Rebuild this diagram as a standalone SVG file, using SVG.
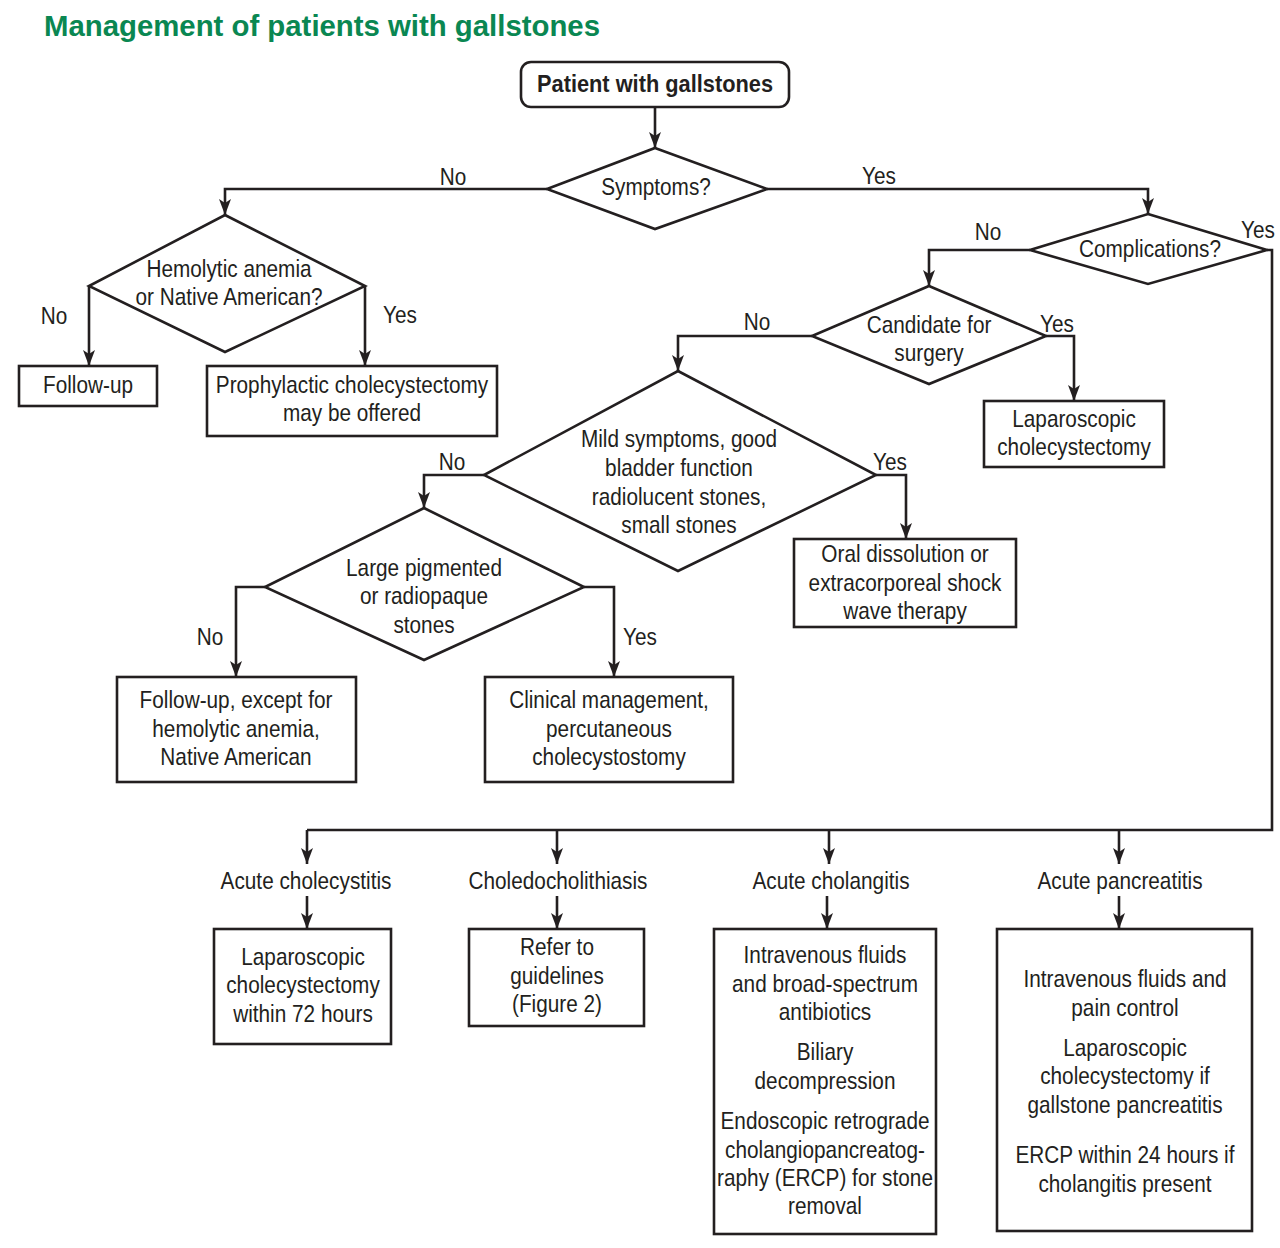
<svg xmlns="http://www.w3.org/2000/svg" width="1280" height="1248" viewBox="0 0 1280 1248">
<style>
.t{font-family:"Liberation Sans",Arial,sans-serif;font-size:24px;fill:#231f20;text-anchor:middle}
.b{font-weight:bold}
.title{font-family:"Liberation Sans",Arial,sans-serif;font-size:30px;font-weight:bold;fill:#0a8752}
.s{fill:#fff;stroke:#231f20;stroke-width:2.6}
.c{fill:none;stroke:#231f20;stroke-width:2.6}
</style>
<defs>
<marker id="ah" viewBox="0 0 16 12" refX="16" refY="6" markerWidth="16" markerHeight="12" markerUnits="userSpaceOnUse" orient="auto">
<path d="M0,0 L16,6 L0,12 L4,6 z" fill="#231f20"/>
</marker>
</defs>
<rect width="1280" height="1248" fill="#fff"/>
<text class="title" x="44" y="36" textLength="556" lengthAdjust="spacingAndGlyphs">Management of patients with gallstones</text>

<g id="connectors">
<path class="c" marker-end="url(#ah)" d="M655,107 V148"/>
<path class="c" marker-end="url(#ah)" d="M547,189 H225 V215"/>
<path class="c" marker-end="url(#ah)" d="M767,189 H1148 V214"/>
<path class="c" marker-end="url(#ah)" d="M89,286 V366"/>
<path class="c" marker-end="url(#ah)" d="M365,286 V366"/>
<path class="c" marker-end="url(#ah)" d="M1030,250 H929 V286"/>
<path class="c" d="M1267,250 H1272 V830 H307"/>
<path class="c" marker-end="url(#ah)" d="M1046,336 H1074 V401"/>
<path class="c" marker-end="url(#ah)" d="M812,336 H678 V371"/>
<path class="c" marker-end="url(#ah)" d="M876,475 H906 V539"/>
<path class="c" marker-end="url(#ah)" d="M484,475 H424 V508"/>
<path class="c" marker-end="url(#ah)" d="M265,587 H236 V677"/>
<path class="c" marker-end="url(#ah)" d="M584,587 H614 V677"/>
<path class="c" marker-end="url(#ah)" d="M307,830 V864"/>
<path class="c" marker-end="url(#ah)" d="M557,830 V864"/>
<path class="c" marker-end="url(#ah)" d="M829,830 V864"/>
<path class="c" marker-end="url(#ah)" d="M1119,830 V864"/>
<path class="c" marker-end="url(#ah)" d="M307,896 V929"/>
<path class="c" marker-end="url(#ah)" d="M557,896 V929"/>
<path class="c" marker-end="url(#ah)" d="M827,896 V929"/>
<path class="c" marker-end="url(#ah)" d="M1119,896 V929"/>
<text class="t" transform="translate(453,0) scale(0.866,1)" y="185">No</text>
<text class="t" transform="translate(879,0) scale(0.866,1)" y="184">Yes</text>
<text class="t" transform="translate(988,0) scale(0.866,1)" y="240">No</text>
<text class="t" transform="translate(1258,0) scale(0.866,1)" y="238">Yes</text>
<text class="t" transform="translate(54,0) scale(0.866,1)" y="324">No</text>
<text class="t" transform="translate(400,0) scale(0.866,1)" y="323">Yes</text>
<text class="t" transform="translate(757,0) scale(0.866,1)" y="330">No</text>
<text class="t" transform="translate(1057,0) scale(0.866,1)" y="332">Yes</text>
<text class="t" transform="translate(452,0) scale(0.866,1)" y="470">No</text>
<text class="t" transform="translate(890,0) scale(0.866,1)" y="470">Yes</text>
<text class="t" transform="translate(210,0) scale(0.866,1)" y="645">No</text>
<text class="t" transform="translate(640,0) scale(0.866,1)" y="645">Yes</text>
</g>

<g id="start">
<rect class="s" x="521" y="62" width="268" height="45" rx="10"/>
<text class="t b" x="655" y="92" textLength="236" lengthAdjust="spacingAndGlyphs">Patient with gallstones</text>
</g>

<g id="symptoms">
<polygon class="s" points="655,148 767,189 655,229 547,189"/>
<text class="t" transform="translate(656,0) scale(0.866,1)" y="195">Symptoms?</text>
</g>

<g id="hemolytic">
<polygon class="s" points="225,215 365,286 225,352 89,286"/>
<text class="t" transform="translate(229,0) scale(0.866,1)" y="277">Hemolytic anemia<tspan x="0" y="305">or Native American?</tspan></text>
</g>

<g id="followup1">
<rect class="s" x="19" y="366" width="138" height="40"/>
<text class="t" transform="translate(88,0) scale(0.866,1)" y="393">Follow-up</text>
</g>

<g id="prophylactic">
<rect class="s" x="207" y="366" width="290" height="70"/>
<text class="t" transform="translate(352,0) scale(0.866,1)" y="393">Prophylactic cholecystectomy<tspan x="0" y="421">may be offered</tspan></text>
</g>

<g id="complications">
<polygon class="s" points="1148,214 1267,250 1148,284 1030,250"/>
<text class="t" transform="translate(1150,0) scale(0.866,1)" y="257">Complications?</text>
</g>

<g id="candidate">
<polygon class="s" points="929,286 1046,336 929,384 812,336"/>
<text class="t" transform="translate(929,0) scale(0.866,1)" y="333">Candidate for<tspan x="0" y="361">surgery</tspan></text>
</g>

<g id="lapchole1">
<rect class="s" x="984" y="401" width="180" height="66"/>
<text class="t" transform="translate(1074,0) scale(0.866,1)" y="427">Laparoscopic<tspan x="0" y="455">cholecystectomy</tspan></text>
</g>

<g id="mild">
<polygon class="s" points="678,371 876,475 678,571 484,475"/>
<text class="t" transform="translate(679,0) scale(0.866,1)" y="447">Mild symptoms, good<tspan x="0" y="476">bladder function</tspan><tspan x="0" y="505">radiolucent stones,</tspan><tspan x="0" y="533">small stones</tspan></text>
</g>

<g id="oral">
<rect class="s" x="794" y="539" width="222" height="88"/>
<text class="t" transform="translate(905,0) scale(0.866,1)" y="562">Oral dissolution or<tspan x="0" y="591">extracorporeal shock</tspan><tspan x="0" y="619">wave therapy</tspan></text>
</g>

<g id="large">
<polygon class="s" points="424,508 584,587 424,660 265,587"/>
<text class="t" transform="translate(424,0) scale(0.866,1)" y="576">Large pigmented<tspan x="0" y="604">or radiopaque</tspan><tspan x="0" y="633">stones</tspan></text>
</g>

<g id="followup2">
<rect class="s" x="117" y="677" width="239" height="105"/>
<text class="t" transform="translate(236,0) scale(0.866,1)" y="708">Follow-up, except for<tspan x="0" y="737">hemolytic anemia,</tspan><tspan x="0" y="765">Native American</tspan></text>
</g>

<g id="clinical">
<rect class="s" x="485" y="677" width="248" height="105"/>
<text class="t" transform="translate(609,0) scale(0.866,1)" y="708">Clinical management,<tspan x="0" y="737">percutaneous</tspan><tspan x="0" y="765">cholecystostomy</tspan></text>
</g>

<g id="cholecystitis">
<text class="t" transform="translate(306,0) scale(0.866,1)" y="889">Acute cholecystitis</text>
<rect class="s" x="214" y="929" width="177" height="115"/>
<text class="t" transform="translate(303,0) scale(0.866,1)" y="965">Laparoscopic<tspan x="0" y="993">cholecystectomy</tspan><tspan x="0" y="1022">within 72 hours</tspan></text>
</g>

<g id="choledocho">
<text class="t" transform="translate(558,0) scale(0.866,1)" y="889">Choledocholithiasis</text>
<rect class="s" x="469" y="929" width="175" height="97"/>
<text class="t" transform="translate(557,0) scale(0.866,1)" y="955">Refer to<tspan x="0" y="984">guidelines</tspan><tspan x="0" y="1012">(Figure 2)</tspan></text>
</g>

<g id="cholangitis">
<text class="t" transform="translate(831,0) scale(0.866,1)" y="889">Acute cholangitis</text>
<rect class="s" x="714" y="929" width="222" height="305"/>
<text class="t" transform="translate(825,0) scale(0.866,1)" y="963">Intravenous fluids<tspan x="0" y="992">and broad-spectrum</tspan><tspan x="0" y="1020">antibiotics</tspan><tspan x="0" y="1060">Biliary</tspan><tspan x="0" y="1089">decompression</tspan><tspan x="0" y="1129">Endoscopic retrograde</tspan><tspan x="0" y="1158">cholangiopancreatog-</tspan><tspan x="0" y="1186">raphy (ERCP) for stone</tspan><tspan x="0" y="1214">removal</tspan></text>
</g>

<g id="pancreatitis">
<text class="t" transform="translate(1120,0) scale(0.866,1)" y="889">Acute pancreatitis</text>
<rect class="s" x="997" y="929" width="255" height="302"/>
<text class="t" transform="translate(1125,0) scale(0.866,1)" y="987">Intravenous fluids and<tspan x="0" y="1016">pain control</tspan><tspan x="0" y="1056">Laparoscopic</tspan><tspan x="0" y="1084">cholecystectomy if</tspan><tspan x="0" y="1113">gallstone pancreatitis</tspan><tspan x="0" y="1163">ERCP within 24 hours if</tspan><tspan x="0" y="1192">cholangitis present</tspan></text>
</g>
</svg>
